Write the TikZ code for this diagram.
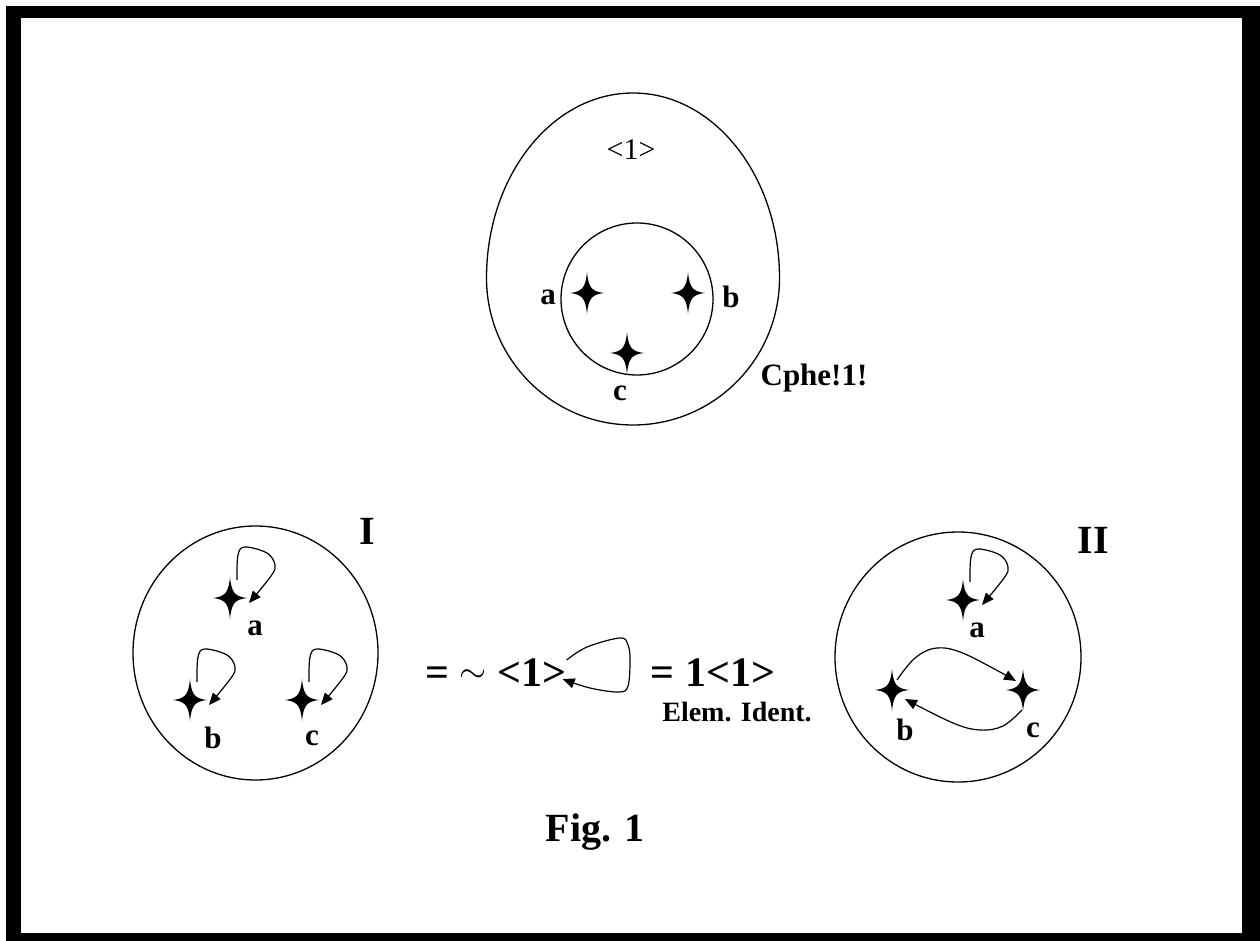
\documentclass[tikz,border=0pt]{standalone}
\usepackage{fontspec}
\setmainfont{Liberation Serif}
\usetikzlibrary{arrows.meta,calc}
\tikzset{
  ring/.style={draw,line width=1.3pt},
  arr/.style={line width=1.2pt,-{Triangle[length=12pt,width=10pt]}},
  lbl/.style={inner sep=0pt,font=\fontsize{31}{31}\selectfont\bfseries},
  big/.style={inner sep=0pt,font=\fontsize{40}{40}\selectfont\bfseries},
  starpt/.style={inner sep=0pt,minimum size=0pt}
}
\newcommand{\starat}[1]{%
  \fill[shift={(#1)}] (0,-21) .. controls (1.5,-5) and (5,-1.5) .. (17,0)
    .. controls (5,1.5) and (1.5,5) .. (0,21)
    .. controls (-1.5,5) and (-5,1.5) .. (-17,0)
    .. controls (-5,-1.5) and (-1.5,-5) .. cycle
    (0,0) circle [radius=5];}
\newcommand{\selfloop}[1]{%
  \draw[arr] plot[smooth,tension=0.6] coordinates {($(#1)+(7,-18)$) ($(#1)+(8,-43)$) ($(#1)+(15,-51)$) ($(#1)+(37,-45)$) ($(#1)+(45,-33)$) ($(#1)+(41,-22)$) ($(#1)+(19,5)$)};}
\begin{document}
\begin{tikzpicture}[x=1pt,y=-1pt]
\useasboundingbox (0,0) rectangle (1260,941);
\fill[white] (0,0) rectangle (1260,941);
\fill[black] (6,6) rectangle (1260,941);
\fill[white] (21,18) rectangle (1242,933);

% top figure (oval)
\draw[ring] (486.5,278) arc[start angle=180,end angle=360,x radius=146.5,y radius=185]
  arc[start angle=0,end angle=180,x radius=146.5,y radius=147] -- cycle;
\draw[ring] (637,299) circle [radius=76];
\node[inner sep=0pt,font=\fontsize{30}{30}\selectfont] (one) at (631,150) {<1>};
\node[starpt] (Ta) at (587,293) {};
\node[starpt] (Tb) at (688,293) {};
\node[starpt] (Tc) at (627,353) {};
\starat{Ta}\starat{Tb}\starat{Tc}
\node[lbl] (Tal) at (548,297) {a};
\node[lbl] (Tbl) at (731,297) {b};
\node[lbl] (Tcl) at (620,393) {c};
\node[inner sep=0pt,font=\fontsize{31}{31}\selectfont\bfseries] (cphe) at (814,378) {Cphe!1!};

% figure I
\draw[ring] (255.5,653) ellipse [x radius=122.5, y radius=127];
\node[big] (lI) at (367,531) {I};
\node[starpt] (Ia) at (230,598) {};
\node[starpt] (Ib) at (190,700) {};
\node[starpt] (Ic) at (302,700) {};
\starat{Ia}\starat{Ib}\starat{Ic}
\selfloop{Ia}\selfloop{Ib}\selfloop{Ic}
\node[lbl] (Ial) at (255,628) {a};
\node[lbl] (Ibl) at (213,738) {b};
\node[lbl] (Icl) at (312,738) {c};

% middle
\node[inner sep=0pt,font=\fontsize{42}{42}\selectfont] (mid1) at (496,673) {\textbf{=} \raisebox{4pt}{\scalebox{1.4}{$\sim$}} \textbf{<1>}};
\draw[arr] plot[smooth,tension=0.6] coordinates {($(mid1.east)+(0,-13)$) (587,647) (620,638) (628,645) (630,660) (628,686) (619,692) (590,688) ($(mid1.east)+(-4,6)$)};
\node[inner sep=0pt,font=\fontsize{42}{42}\selectfont\bfseries] (mid2) at (713,673) {= 1<1>};
\node[inner sep=0pt,font=\fontsize{28}{28}\selectfont\bfseries] (elem) at (737,712) {Elem. Ident.};

% figure II
\draw[ring] (958,657) ellipse [x radius=123, y radius=125];
\node[big] (lII) at (1093,540) {II};
\node[starpt] (IIa) at (963,600) {};
\node[starpt] (IIb) at (892,690) {};
\node[starpt] (IIc) at (1023,690) {};
\starat{IIa}\starat{IIb}\starat{IIc}
\selfloop{IIa}
\draw[arr] plot[smooth,tension=0.6] coordinates {($(IIb)+(5,-10)$) (915,658) (937,648) (965,654) ($(IIc)+(-7,-9)$)};
\draw[arr] plot[smooth,tension=0.6] coordinates {($(IIc)+(-1,20)$) (1003,726) (980,730) (953,723) ($(IIb)+(13,9)$)};
\node[lbl] (IIal) at (977,630) {a};
\node[lbl] (IIbl) at (905,730) {b};
\node[lbl] (IIcl) at (1033,730) {c};

\node[big] (fig) at (595,832) {Fig. 1};
\end{tikzpicture}
\end{document}
